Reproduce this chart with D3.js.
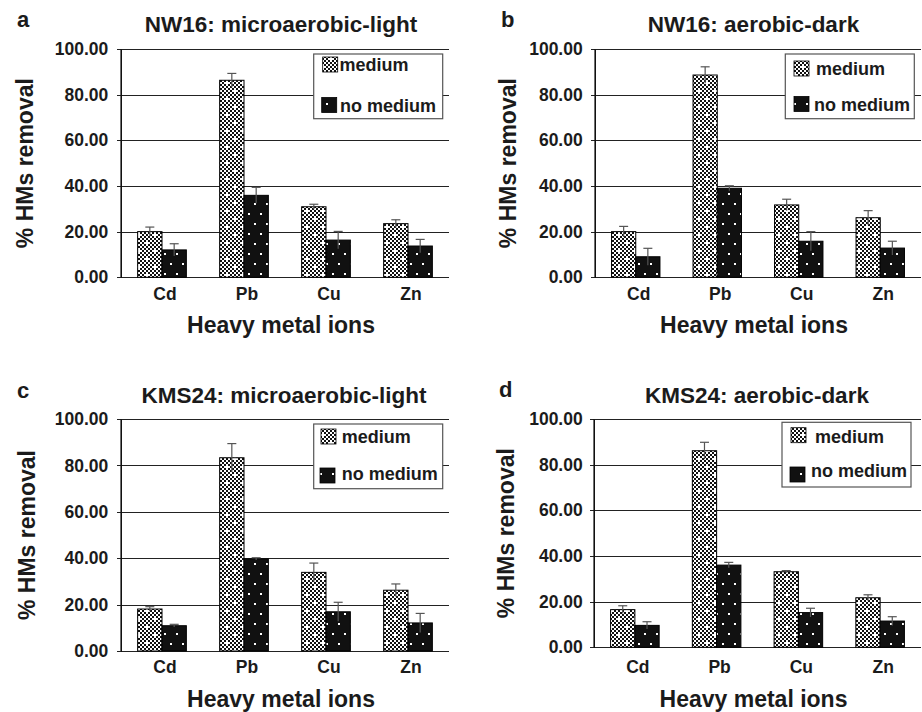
<!DOCTYPE html>
<html>
<head>
<meta charset="utf-8">
<script src="https://cdn.jsdelivr.net/npm/d3@7"></script>
<style>
  html, body { margin: 0; padding: 0; background: #fff; }
  svg { display: block; font-family: "Liberation Sans", Arial, Helvetica, sans-serif; font-weight: bold; }
</style>
</head>
<body>
<svg id="chart" width="922" height="712"></svg>
<script>
// ---------------- DATA ----------------
const categories = ["Cd", "Pb", "Cu", "Zn"];
const seriesNames = ["medium", "no medium"];
const yTicks = [0, 20, 40, 60, 80, 100];
const panelLetters = ["a", "b", "c", "d"];
const panelTitles = ["NW16: microaerobic-light", "NW16: aerobic-dark", "KMS24: microaerobic-light", "KMS24: aerobic-dark"];
const yAxisTitle = "% HMs removal";
const xAxisTitle = "Heavy metal ions";

const aMedium   = [20.0, 86.3, 30.9, 23.5];
const aMediumErr= [2.0, 3.0, 1.1, 1.7];
const aNoMedium = [12.0, 35.9, 16.3, 13.7];
const aNoMediumErr = [2.7, 3.5, 3.8, 2.9];

const bMedium   = [20.0, 88.6, 31.7, 26.1];
const bMediumErr= [2.3, 3.6, 2.5, 3.1];
const bNoMedium = [9.0, 39.0, 15.8, 12.8];
const bNoMediumErr = [3.7, 1.1, 4.2, 3.0];

const cMedium   = [18.1, 83.3, 33.9, 26.2];
const cMediumErr= [1.0, 6.1, 4.0, 2.7];
const cNoMedium = [10.9, 39.7, 16.9, 12.1];
const cNoMediumErr = [0.6, 0.5, 4.1, 4.1];

const dMedium   = [16.5, 86.1, 33.1, 21.7];
const dMediumErr= [1.7, 3.7, 0.5, 1.3];
const dNoMedium = [9.6, 36.0, 15.2, 11.5];
const dNoMediumErr = [1.6, 1.2, 1.9, 1.9];

const panelData = [
  [[aMedium, aMediumErr], [aNoMedium, aNoMediumErr]],
  [[bMedium, bMediumErr], [bNoMedium, bNoMediumErr]],
  [[cMedium, cMediumErr], [cNoMedium, cNoMediumErr]],
  [[dMedium, dMediumErr], [dNoMedium, dNoMediumErr]]
];

// ---------------- LAYOUT ----------------
const layouts = [
  { x0: 121, x1: 449, top: 49, bottom: 277.3, letterX: 17, letterY: 27, titleX: 281, titleY: 31.7,
    yTitleX: 25, xTitleY: 333.3, xLabY: 300, tickEnd: 108.3, catDx: 3,
    legend: { x: 313.7, y: 54, w: 129, h: 64.7, items: [ {sx: 322.7, sy: 57, tx: 339.5, ty: 71}, {sx: 321.7, sy: 97.5, tx: 340, ty: 111.5} ] } },
  { x0: 595, x1: 921, top: 49, bottom: 277.3, letterX: 501, letterY: 26.7, titleX: 753.5, titleY: 31.7,
    yTitleX: 507.7, xTitleY: 333.3, xLabY: 300, tickEnd: 582.7, catDx: 3,
    legend: { x: 785.3, y: 54, w: 129, h: 64.7, items: [ {sx: 794, sy: 61, tx: 816, ty: 75}, {sx: 794, sy: 96.5, tx: 814, ty: 110.5} ] } },
  { x0: 121, x1: 449, top: 419, bottom: 651, letterX: 17, letterY: 398.3, titleX: 284, titleY: 402.7,
    yTitleX: 27, xTitleY: 707, xLabY: 673.3, tickEnd: 108.3, catDx: 3,
    legend: { x: 313.7, y: 424, w: 129, h: 64.7, items: [ {sx: 321, sy: 429, tx: 341.7, ty: 443} , {sx: 320, sy: 468, tx: 341.7, ty: 479.5} ] } },
  { x0: 594, x1: 921, top: 419, bottom: 647.3, letterX: 499, letterY: 396.7, titleX: 757, titleY: 402.7,
    yTitleX: 505.7, xTitleY: 707, xLabY: 673.3, tickEnd: 582.7, catDx: 3,
    legend: { x: 782, y: 422.3, w: 129, h: 64.7, items: [ {sx: 791, sy: 427.7, tx: 815, ty: 443.3}, {sx: 790, sy: 467, tx: 811, ty: 477} ] } }
];

const textColor = "#1b1b1b";
const svg = d3.select("#chart");

// ---------------- PATTERNS ----------------
const defs = svg.append("defs");
// checkerboard with white crosses (medium)
const pm = defs.append("pattern").attr("id", "patMedium").attr("patternUnits", "userSpaceOnUse")
  .attr("width", 16).attr("height", 16);
pm.append("rect").attr("width", 16).attr("height", 16).attr("fill", "#fff");
for (let i = 0; i < 8; i++) {
  for (let j = 0; j < 8; j++) {
    const isCross = (i === 1 && j === 1) || (i === 5 && j === 5);
    if ((i + j) % 2 === 0 && !isCross) {
      pm.append("rect").attr("x", i * 2).attr("y", j * 2).attr("width", 2).attr("height", 2).attr("fill", "#111");
    }
  }
}
// black with white dots (no medium)
const pn = defs.append("pattern").attr("id", "patNoMedium").attr("patternUnits", "userSpaceOnUse")
  .attr("width", 12).attr("height", 20);
pn.append("rect").attr("width", 12).attr("height", 20).attr("fill", "#111");
pn.append("rect").attr("x", 2).attr("y", 3).attr("width", 2).attr("height", 2).attr("fill", "#fff");
pn.append("rect").attr("x", 8).attr("y", 13).attr("width", 2).attr("height", 2).attr("fill", "#fff");

const fills = ["url(#patMedium)", "url(#patNoMedium)"];

// ---------------- DRAW PANELS ----------------
layouts.forEach((L, pi) => {
  const g = svg.append("g");
  const x = d3.scaleBand().domain(categories).range([L.x0, L.x1]).paddingInner(0.406).paddingOuter(0.203);
  const xs = d3.scaleBand().domain(seriesNames).range([0, x.bandwidth()]);
  const y = d3.scaleLinear().domain([0, 100]).range([L.bottom, L.top]);

  // gridlines (extend left as ticks)
  const grid = g.append("g").attr("transform", `translate(${L.x1},0)`)
    .call(d3.axisLeft(y).tickValues(yTicks).tickSize(L.x1 - L.x0 + 4).tickFormat(""));
  grid.select(".domain").remove();
  grid.selectAll("line").attr("stroke", "#222").attr("stroke-width", 1).attr("shape-rendering", "crispEdges");

  // y tick labels
  const yAx = g.append("g").attr("transform", `translate(${L.x0},0)`)
    .call(d3.axisLeft(y).tickValues(yTicks).tickSize(0).tickPadding(L.x0 - L.tickEnd).tickFormat(d3.format(".2f")));
  yAx.select(".domain").attr("stroke", "#111").attr("shape-rendering", "crispEdges");
  yAx.selectAll("text").attr("font-size", 17.5).attr("font-weight", "bold").attr("fill", textColor)
    .attr("font-family", "'Liberation Sans', Arial, sans-serif");

  // x category labels
  const xAx = g.append("g").attr("transform", `translate(${L.catDx},${L.bottom})`)
    .call(d3.axisBottom(x).tickSize(0).tickPadding(L.xLabY - L.bottom - 12.5));
  xAx.select(".domain").remove();
  xAx.selectAll("text").attr("font-size", 17.5).attr("font-weight", "bold").attr("fill", textColor)
    .attr("font-family", "'Liberation Sans', Arial, sans-serif");

  // bars
  const series = panelData[pi];
  series.forEach((s, si) => {
    const vals = s[0], errs = s[1];
    const bars = categories.map((c, ci) => ({ c, v: vals[ci], e: errs[ci] }));
    g.append("g").selectAll("rect").data(bars).join("rect")
      .attr("x", d => x(d.c) + xs(seriesNames[si]))
      .attr("y", d => y(d.v))
      .attr("width", xs.bandwidth())
      .attr("height", d => y(0) - y(d.v))
      .attr("fill", fills[si])
      .attr("stroke", "#000").attr("stroke-width", 1);
    // error bars
    const eg = g.append("g").attr("stroke", "#555").attr("stroke-width", 1.2);
    bars.forEach(d => {
      const cx = x(d.c) + xs(seriesNames[si]) + xs.bandwidth() / 2;
      eg.append("line").attr("x1", cx).attr("x2", cx).attr("y1", y(d.v + d.e)).attr("y2", y(Math.max(0, d.v - d.e)));
      eg.append("line").attr("x1", cx - 4.5).attr("x2", cx + 4.5).attr("y1", y(d.v + d.e)).attr("y2", y(d.v + d.e));
    });
  });

  // left axis line on top
  g.append("line").attr("x1", L.x0).attr("x2", L.x0).attr("y1", L.top).attr("y2", L.bottom)
    .attr("stroke", "#111").attr("stroke-width", 1.2);

  // legend
  const lg = L.legend;
  g.append("rect").attr("x", lg.x).attr("y", lg.y).attr("width", lg.w).attr("height", lg.h)
    .attr("fill", "#fff").attr("stroke", "#555").attr("stroke-width", 1.2);
  seriesNames.forEach((name, si) => {
    const it = lg.items[si];
    g.append("rect").attr("x", it.sx).attr("y", it.sy).attr("width", 15).attr("height", 15)
      .attr("fill", fills[si]).attr("stroke", "#000").attr("stroke-width", 0.8);
    g.append("text").attr("x", it.tx).attr("y", it.ty).text(name)
      .attr("font-size", 18).attr("fill", textColor);
  });

  // panel letter
  g.append("text").attr("x", L.letterX).attr("y", L.letterY).text(panelLetters[pi])
    .attr("font-size", 22).attr("fill", textColor);
  // title
  g.append("text").attr("x", L.titleX).attr("y", L.titleY).attr("text-anchor", "middle")
    .text(panelTitles[pi]).attr("font-size", 22.5).attr("fill", textColor);
  // y title
  const yMid = (L.top + L.bottom) / 2;
  g.append("text").attr("transform", `translate(${L.yTitleX + 8},${yMid}) rotate(-90)`)
    .attr("text-anchor", "middle").text(yAxisTitle).attr("font-size", 23).attr("fill", textColor);
  // x title
  g.append("text").attr("x", (L.x0 + L.x1) / 2 - 4).attr("y", L.xTitleY).attr("text-anchor", "middle")
    .text(xAxisTitle).attr("font-size", 23).attr("fill", textColor);
});
</script>
</body>
</html>
